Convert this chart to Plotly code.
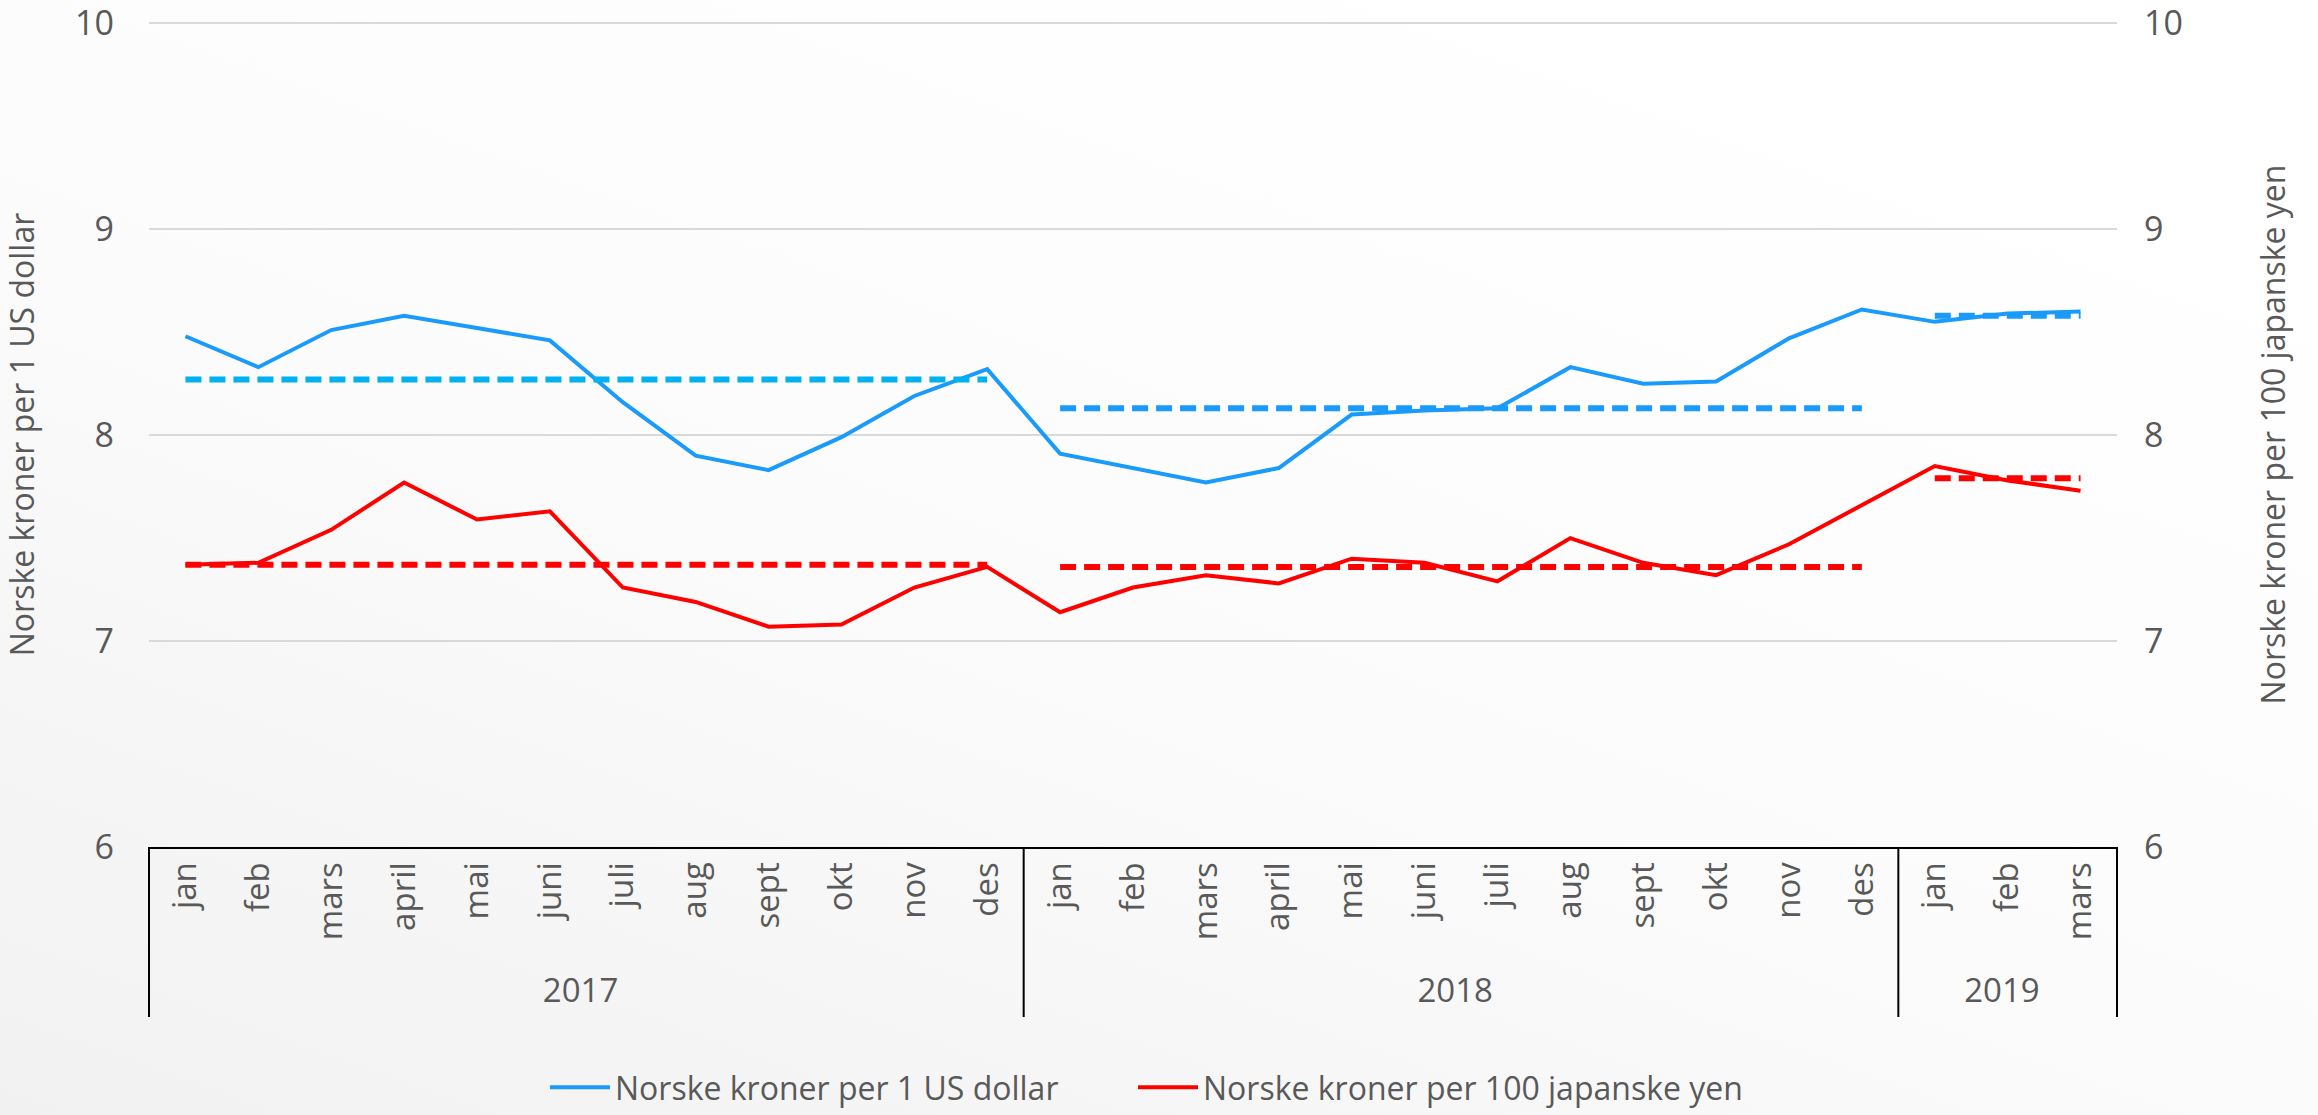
import base64
import plotly.graph_objects as go

years = ["2017"] * 12 + ["2018"] * 12 + ["2019"] * 3
months = ["jan", "feb", "mars", "april", "mai", "juni", "juli", "aug", "sept", "okt", "nov", "des",
          "jan", "feb", "mars", "april", "mai", "juni", "juli", "aug", "sept", "okt", "nov", "des",
          "jan", "feb", "mars"]

usd = [8.48, 8.33, 8.51, 8.58, 8.52, 8.46, 8.16, 7.90, 7.83, 7.99, 8.19, 8.32,
       7.91, 7.84, 7.77, 7.84, 8.10, 8.12, 8.13, 8.33, 8.25, 8.26, 8.47, 8.61,
       8.55, 8.59, 8.60]
jpy = [7.37, 7.38, 7.54, 7.77, 7.59, 7.63, 7.26, 7.19, 7.07, 7.08, 7.26, 7.36,
       7.14, 7.26, 7.32, 7.28, 7.40, 7.38, 7.29, 7.50, 7.38, 7.32, 7.47, 7.66,
       7.85, 7.78, 7.73]

avg_years = ["2017", "2018", "2019"]
usd_avg = [8.27, 8.13, 8.58]
jpy_avg = [7.37, 7.36, 7.79]

y_ticks = [6, 7, 8, 9, 10]
y_range = [6, 10.006]

usd_color = "#1A9BFC"
usd_avg_colors = ["#00B0F0", "#1A9BFC", "#1A9BFC"]
jpy_color = "#FF0000"
txt = "#595959"
FONT = "Open Sans"

fig = go.Figure()

fig.add_trace(go.Scatter(x=[years, months], y=usd, mode="lines", name="Norske kroner per 1 US dollar",
                         line=dict(color=usd_color, width=4), legend="legend"))
fig.add_trace(go.Scatter(x=[years, months], y=jpy, mode="lines", name="Norske kroner per 100 japanske yen",
                         line=dict(color=jpy_color, width=4), yaxis="y2", legend="legend2"))

for i, yr in enumerate(avg_years):
    idx = [k for k, y in enumerate(years) if y == yr]
    xs = [[years[k] for k in idx], [months[k] for k in idx]]
    fig.add_trace(go.Scatter(x=xs, y=[usd_avg[i]] * len(idx), mode="lines", showlegend=False,
                             line=dict(color=usd_avg_colors[i], width=6, dash="16px,8px"), hoverinfo="skip"))
    fig.add_trace(go.Scatter(x=xs, y=[jpy_avg[i]] * len(idx), mode="lines", showlegend=False,
                             line=dict(color=jpy_color, width=6, dash="16px,8px"), yaxis="y2", hoverinfo="skip"))

W, H = 2318, 1115
ml, mr, mt, mb = 149, 201, 22, 268
pw, ph = W - ml - mr, H - mt - mb

svg = (f"<svg xmlns='http://www.w3.org/2000/svg' width='{W}' height='{H}' preserveAspectRatio='none'>"
       "<defs><linearGradient id='g' x1='0' y1='1' x2='0.75' y2='0'>"
       "<stop offset='0' stop-color='#F1F1F1'/><stop offset='0.55' stop-color='#FCFCFC'/>"
       "<stop offset='1' stop-color='#FFFFFF'/></linearGradient></defs>"
       f"<rect x='0' y='0' width='{W}' height='{H}' fill='url(#g)'/></svg>")
src = "data:image/svg+xml;base64," + base64.b64encode(svg.encode()).decode()

# group boundary lines of the category axis (outer edges and between years)
n = len(months)
bounds = [0]
for k in range(1, n):
    if years[k] != years[k - 1]:
        bounds.append(k)
bounds.append(n)
div_bottom = -(1017 - (H - mb)) / ph
shapes = [dict(type="line", xref="paper", yref="paper", x0=b / n, x1=b / n, y0=0, y1=div_bottom,
               line=dict(color="#000000", width=2), layer="above") for b in bounds]

leg_common = dict(orientation="h", xref="container", yref="container", xanchor="left",
                  y=0.0, yanchor="bottom", font=dict(family=FONT, size=32, color=txt),
                  bgcolor="rgba(0,0,0,0)", itemwidth=60)

fig.update_layout(
    width=W, height=H,
    margin=dict(l=ml, r=mr, t=mt, b=mb),
    paper_bgcolor="white",
    plot_bgcolor="rgba(0,0,0,0)",
    font=dict(family=FONT, color=txt, size=32),
    images=[dict(source=src, xref="paper", yref="paper",
                 x=-ml / pw, y=1 + mt / ph, sizex=W / pw, sizey=H / ph,
                 xanchor="left", yanchor="top", sizing="stretch", layer="below")],
    shapes=shapes,
    xaxis=dict(type="multicategory", tickangle=-90, showline=True, linecolor="#000000", linewidth=2,
               showdividers=False, automargin=False, range=[-0.5, n - 0.5],
               ticks="", showgrid=False, tickfont=dict(family=FONT, size=33, color=txt)),
    yaxis=dict(range=y_range, tickvals=y_ticks, showgrid=True, gridcolor="#D9D9D9", gridwidth=2,
               zeroline=False, showline=False, ticks="", ticklabelstandoff=34,
               ticklabeloverflow="allow", automargin=False,
               tickfont=dict(family=FONT, size=34, color=txt),
               title=dict(text="Norske kroner per 1 US dollar", standoff=31,
                          font=dict(family=FONT, size=32, color=txt))),
    yaxis2=dict(range=y_range, tickvals=y_ticks, overlaying="y", side="right", showgrid=False,
                zeroline=False, showline=False, ticks="", ticklabelstandoff=26,
                ticklabeloverflow="allow", automargin=False,
                tickfont=dict(family=FONT, size=34, color=txt),
                title=dict(text="Norske kroner per 100 japanske yen", standoff=80,
                           font=dict(family=FONT, size=32, color=txt))),
    legend=dict(x=545 / W, **leg_common),
    legend2=dict(x=1133 / W, **leg_common),
    showlegend=True,
)

fig.write_html("out.html", config={"displayModeBar": False},
               post_script="document.body.style.margin='0';document.body.style.padding='0';")
